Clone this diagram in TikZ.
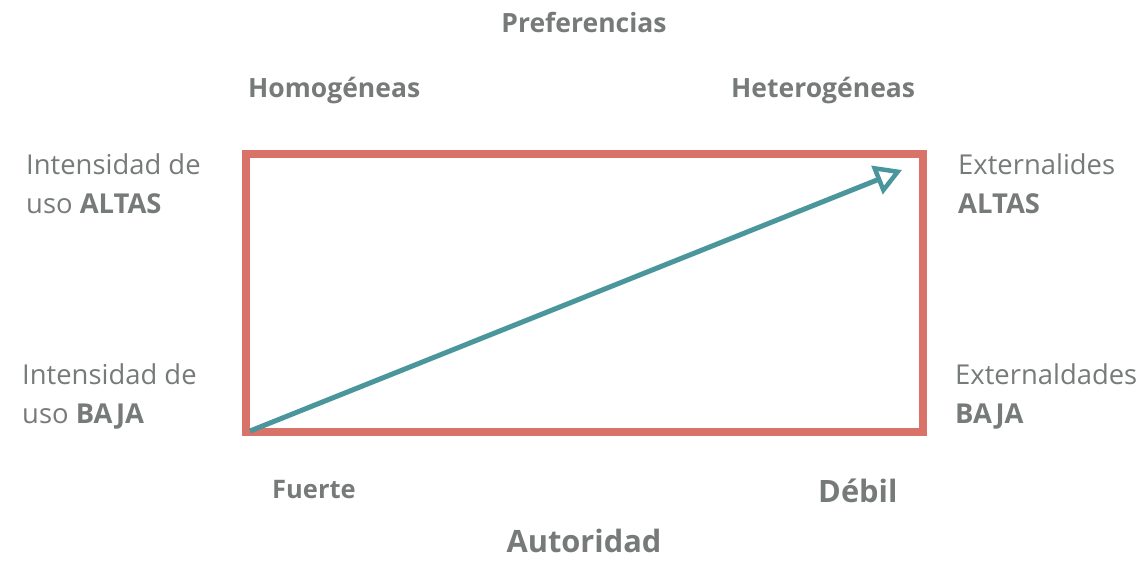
\documentclass[tikz,border=0pt]{standalone}
\usepackage{fontspec}
\setmainfont{Open Sans}
\usetikzlibrary{arrows.meta}
\definecolor{txtgray}{HTML}{767A79}
\definecolor{boxred}{HTML}{D9736A}
\definecolor{arrteal}{HTML}{4A969C}
\tikzset{
  lbl/.style={inner sep=0pt, text=txtgray, font=\fontsize{27.4}{32}\selectfont},
  hdr/.style={inner sep=0pt, text=txtgray, font=\fontsize{26.5}{32}\selectfont\bfseries},
  sml/.style={inner sep=0pt, text=txtgray, font=\fontsize{25.5}{32}\selectfont\bfseries},
  big/.style={inner sep=0pt, text=txtgray, font=\fontsize{30.8}{36}\selectfont\bfseries},
}
\begin{document}
\begin{tikzpicture}[x=1pt,y=-1pt]
\useasboundingbox (0,0) rectangle (1145,560);
% frame
\draw[boxred, line width=8pt] (246,154) rectangle (923,432);
\coordinate (start) at (250,431);
\coordinate (tip) at (902,170);
\draw[arrteal, line width=5pt, -{Triangle[open, length=27pt, width=30pt, line width=4.5pt]}] (start) -- (tip);
% headers
\node[hdr, anchor=base] (pref) at (584,32) {Preferencias};
\node[hdr, anchor=base west] (homo) at (248,97) {Homogéneas};
\node[hdr, anchor=base west] (hete) at (731,97) {Heterogéneas};
% left labels
\node[lbl, anchor=base west] (ia1) at (26,174) {Intensidad de};
\node[lbl, anchor=base west] (ia2) at (26,213) {uso \textbf{ALTAS}};
\node[lbl, anchor=base west] (ib1) at (22,384) {Intensidad de};
\node[lbl, anchor=base west] (ib2) at (22,423) {uso \textbf{BAJA}};
% right labels
\node[lbl, anchor=base west] (ea1) at (958,174) {Externalides};
\node[lbl, anchor=base west] (ea2) at (958,213) {\textbf{ALTAS}};
\node[lbl, anchor=base west] (eb1) at (955,384) {Externaldades};
\node[lbl, anchor=base west] (eb2) at (955,423) {\textbf{BAJA}};
% bottom
\node[sml, anchor=base west] (fue) at (272,498) {Fuerte};
\node[big, anchor=base west] (deb) at (818,502) {Débil};
\node[big, anchor=base] (aut) at (584,552) {Autoridad};
\end{tikzpicture}
\end{document}
